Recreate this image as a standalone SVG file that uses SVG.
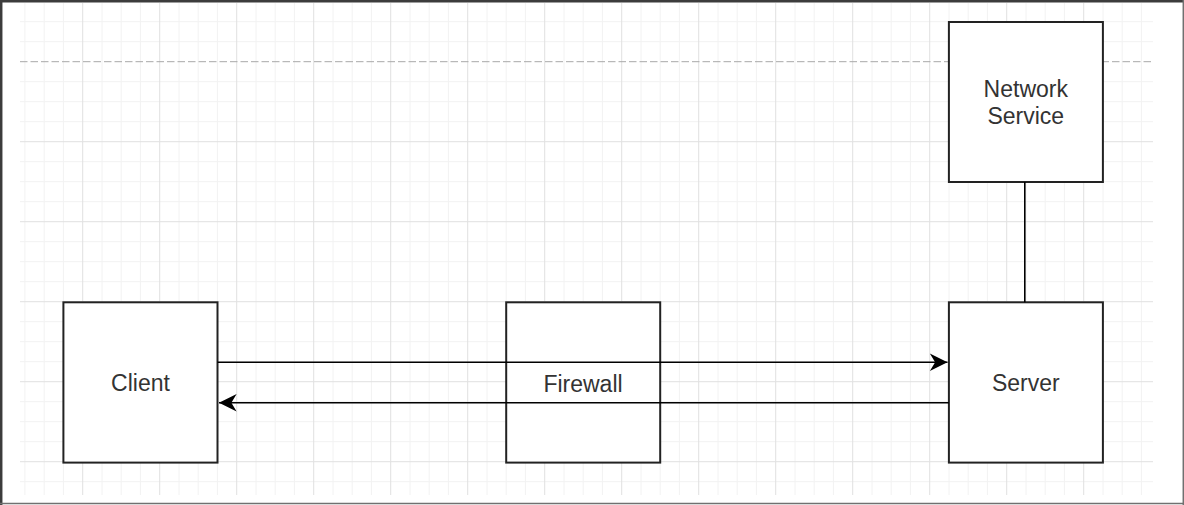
<svg xmlns="http://www.w3.org/2000/svg" width="1184" height="505" viewBox="0 0 1184 505">
<style>
.minor{stroke:#f2f2f2;stroke-width:1;fill:none}
.major{stroke:#e0e0e0;stroke-width:1;fill:none}
.box{fill:#ffffff;stroke:#222222;stroke-width:2}
.lbl{font-family:"Liberation Sans",Arial,Helvetica,sans-serif;font-size:23px;fill:#333333;text-anchor:middle}
.conn{stroke:#000000;stroke-width:1.6;fill:none}
</style>
<defs>
<marker id="arr" markerUnits="userSpaceOnUse" markerWidth="20" markerHeight="20" viewBox="-16 -8 17 16" refX="0" refY="0" orient="auto">
<path d="M0,0 L-15,-7.5 L-10.5,0 L-15,7.5 Z" fill="#000000"/>
</marker>
</defs>
<rect x="0" y="0" width="1184" height="505" fill="#ffffff"/>
<g id="grid">
<path class="minor" d="M24.9,3V495M44.2,3V495M63.4,3V495M102,3V495M121.2,3V495M140.4,3V495M179,3V495M198.2,3V495M217.4,3V495M256,3V495M275.2,3V495M294.4,3V495M333,3V495M352.2,3V495M371.4,3V495M410,3V495M429.2,3V495M448.4,3V495M487,3V495M506.2,3V495M525.4,3V495M564,3V495M583.2,3V495M602.4,3V495M641,3V495M660.2,3V495M679.4,3V495M718,3V495M737.2,3V495M756.4,3V495M795,3V495M814.2,3V495M833.4,3V495M872,3V495M891.2,3V495M910.4,3V495M949,3V495M968.2,3V495M987.4,3V495M1026,3V495M1045.2,3V495M1064.4,3V495M1103,3V495M1122.2,3V495M1141.4,3V495"/>
<path class="minor" d="M20,21.7H1153M20,41.7H1153M20,81.7H1153M20,101.7H1153M20,121.7H1153M20,161.7H1153M20,181.7H1153M20,201.7H1153M20,241.7H1153M20,261.7H1153M20,281.7H1153M20,321.7H1153M20,341.7H1153M20,361.7H1153M20,401.7H1153M20,421.7H1153M20,441.7H1153M20,481.7H1153"/>
<path class="major" d="M82.7,3V495M159.7,3V495M236.7,3V495M313.7,3V495M390.7,3V495M467.7,3V495M544.7,3V495M621.7,3V495M698.7,3V495M775.7,3V495M852.7,3V495M929.7,3V495M1006.7,3V495M1083.7,3V495"/>
<path class="major" d="M20,141.7H1153M20,221.7H1153M20,301.7H1153M20,381.7H1153M20,461.7H1153"/>
<path d="M20,61.7H1153" stroke="#a8a8a8" stroke-width="1" stroke-dasharray="7.5,3" fill="none"/>
</g>
<g id="frame">
<path d="M0,1.2H1184M1.2,0V505" stroke="#3c3c3c" stroke-width="2.5" fill="none"/>
<path d="M0,503.4H1184M1183.3,0V505" stroke="#707070" stroke-width="1.5" fill="none"/>
</g>
<g id="client">
<rect class="box" x="63.4" y="302.3" width="154.1" height="160.3"/>
<text class="lbl" x="140.5" y="391">Client</text>
</g>
<g id="firewall">
<rect class="box" x="506.2" y="302.3" width="154" height="160.3"/>
<text class="lbl" x="583" y="391.5">Firewall</text>
</g>
<g id="server">
<rect class="box" x="948.9" y="302.3" width="154" height="160.3"/>
<text class="lbl" x="1025.8" y="391">Server</text>
</g>
<g id="network-service">
<rect class="box" x="948.9" y="22" width="154" height="160"/>
<text class="lbl" x="1025.8" y="96.5">Network</text>
<text class="lbl" x="1025.8" y="124">Service</text>
</g>
<g id="connectors">
<path class="conn" d="M217.5,362.3H947.5" marker-end="url(#arr)"/>
<path class="conn" d="M948.9,402.7H219" marker-end="url(#arr)"/>
<path class="conn" d="M1024.8,182V302.3"/>
</g>
</svg>
